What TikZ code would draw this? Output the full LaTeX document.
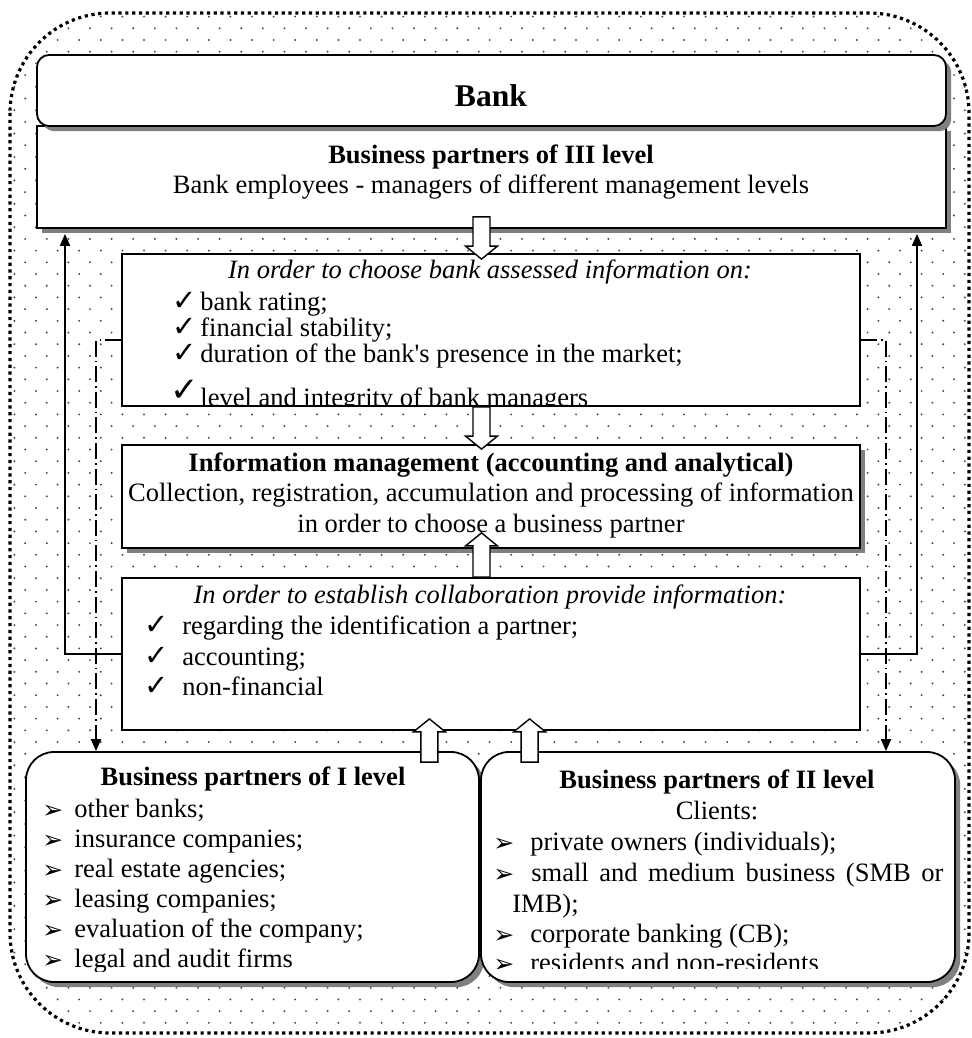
\documentclass[tikz,border=0pt]{standalone}
\usepackage{fontspec}
\setmainfont{Liberation Serif}[Ligatures=TeXOff]
\newfontfamily\symfont{DejaVu Sans}
\usetikzlibrary{calc,fit,shadows,arrows.meta}
% hollow block arrow from #1 (start of shaft) to #2 (tip), vertical
\newcommand\hollowar[2]{%
  \draw[harrow] let \p1=(#1), \p2=(#2), \n2={\y2+6.5pt*ifthenelse(\y2<\y1,1,-1)} in
    ({\x1-4.25pt},\y1) -- ({\x1-4.25pt},{\n2*1pt}) -- ({\x1-8pt},{\n2*1pt})
    -- (\x1,\y2) -- ({\x1+8pt},{\n2*1pt}) -- ({\x1+4.25pt},{\n2*1pt})
    -- ({\x1+4.25pt},\y1) -- cycle;}
\begin{document}
\begin{tikzpicture}[x=0.5pt,y=-0.5pt,
  box/.style={draw=black, line width=0.9pt, fill=white, inner sep=0pt},
  shad/.style={general shadow={fill=black!50, shadow xshift=2.6pt, shadow yshift=-2.6pt}},
  txt/.style={inner sep=0pt, font=\fontsize{13.25}{15.25}\selectfont},
  chk/.style={inner sep=0pt, font=\symfont\fontsize{14.5}{15}\selectfont},
  bul/.style={inner sep=0pt, font=\symfont\fontsize{12.5}{14}\selectfont},
  harrow/.style={draw=black, line width=0.7pt, fill=white, line join=miter},
  conn/.style={draw=black, line width=0.9pt, -{Triangle[length=6pt,width=5pt]}},
  dashdot/.style={draw=black, line width=0.9pt, dash pattern=on 8pt off 2pt on 0.8pt off 2pt,
     -{Triangle[length=6pt,width=5pt]}},
  outerline/.style={draw=black, line width=1.6pt, dash pattern=on 1.6pt off 1.8pt, rounded corners=50pt},
  dotc/.style={fill=black!70}
]
\useasboundingbox (0,0) rectangle (971,1038);

% background dots
\begin{scope}
  \clip[rounded corners=50pt] (10,13) rectangle (969,1033);
  \foreach \j in {0,...,89} {
    \pgfmathsetmacro\yy{16.6+11.7*\j}
    \pgfmathsetmacro\xo{mod(\j,2)==1 ? 3.6 : 14.4}
    \foreach \i in {0,...,44} {
      \fill[dotc] (\xo+21.6*\i,\yy) circle (0.55pt);
    }
  }
\end{scope}
\draw[outerline] (10,13) rectangle (969,1033);

% boxes
\node[box, shad, fit={(37,126) (946,228)}] (b3) {};
\node[box, shad, rounded corners=6pt, fit={(37,55) (946,126)}] (bank) {};
\node[box, fit={(122,254) (860,406)}] (b2) {};
\node[box, shad, fit={(122,445) (860,548)}] (im) {};
\node[box, fit={(122,578) (860,730)}] (b4) {};
\node[box, shad, rounded corners=14pt, fit={(26,752) (479,982)}] (bL) {};
\node[box, shad, rounded corners=14pt, fit={(481,752) (955,982)}] (bR) {};

% texts: bank
\node[txt, font=\fontsize{15.8}{18}\selectfont\bfseries, anchor=base] (tbank) at (491,106) {Bank};
\node[txt, anchor=base] (t3a) at (491,163) {\textbf{Business partners of III level}};
\node[txt, anchor=base] (t3b) at (491,193) {Bank employees - managers of different management levels};

% box 2
\begin{scope}
  \clip (122,254) rectangle (860,406);
  \node[txt, anchor=base] (t2h) at (490,278) {\itshape In order to choose bank assessed information on:};
  \node[chk, anchor=base west] (c21) at (172,310) {✓};
  \node[txt, anchor=base west] (t21) at (200,310) {bank rating;};
  \node[chk, anchor=base west] (c22) at (172,336) {✓};
  \node[txt, anchor=base west] (t22) at (200,336) {financial stability;};
  \node[chk, anchor=base west] (c23) at (172,362) {✓};
  \node[txt, anchor=base west] (t23) at (200,362) {duration of the bank's presence in the market;};
  \node[chk, font=\symfont\fontsize{17}{18}\selectfont, anchor=base west] (c24) at (170,401) {✓};
  \node[txt, anchor=base west] (t24) at (200,406) {level and integrity of bank managers};
\end{scope}

% information management
\node[txt, anchor=base] (tima) at (491,471) {\textbf{Information management (accounting and analytical)}};
\node[txt, anchor=base] (timb) at (491,501) {Collection, registration, accumulation and processing of information};
\node[txt, anchor=base] (timc) at (491,532) {in order to choose a business partner};

% box 4
\node[txt, anchor=base] (t4h) at (490,603) {\itshape In order to establish collaboration provide information:};
\node[chk, anchor=base west] (c41) at (144,634) {✓};
\node[txt, anchor=base west] (t41) at (182,634) {regarding the identification a partner;};
\node[chk, anchor=base west] (c42) at (144,665) {✓};
\node[txt, anchor=base west] (t42) at (182,665) {accounting;};
\node[chk, anchor=base west] (c43) at (144,695) {✓};
\node[txt, anchor=base west] (t43) at (182,695) {non-financial};

% bottom left
\node[txt, anchor=base] (tLh) at (253,785) {\textbf{Business partners of I level}};
\begin{scope}
  \clip (26,752) rectangle (479,971);
  \foreach \k/\s in {0/{other banks;},1/{insurance companies;},2/{real estate agencies;},3/{leasing companies;},4/{evaluation of the company;},5/{legal and audit firms}} {
    \node[bul, anchor=base west] (bl\k) at (42,{818+30*\k}) {➢};
    \node[txt, anchor=base west] (tl\k) at (74,{817+30*\k}) {\s};
  }
\end{scope}

% bottom right
\node[txt, anchor=base] (tRh) at (717,788) {\textbf{Business partners of II level}};
\node[txt, anchor=base] (tRc) at (717,819) {Clients:};
\begin{scope}
  \clip (481,752) rectangle (955,968);
  \node[bul, anchor=base west] (br1) at (493,851) {➢};
  \node[txt, anchor=base west] (tr1) at (530,850) {private owners (individuals);};
  \node[bul, anchor=base west] (br2) at (493,882) {➢};
  \node[txt, anchor=base west] (tr2) at (531,881) {\hbox to 206pt{small\hfill and\hfill medium\hfill business\hfill (SMB\hfill or}};
  \node[txt, anchor=base west] (tr2b) at (512,912) {IMB);};
  \node[bul, anchor=base west] (br3) at (493,943) {➢};
  \node[txt, anchor=base west] (tr3) at (530,942) {corporate banking (CB);};
  \node[bul, anchor=base west] (br4) at (493,972) {➢};
  \node[txt, anchor=base west] (tr4) at (530,971) {residents and non-residents};
\end{scope}

% hollow block arrows
\coordinate (a1s) at ($(b3.south)+(-10,-12)$);
\coordinate (a1t) at ($(b2.north)+(-9.5,6)$);
\hollowar{a1s}{a1t}
\coordinate (a2s) at ($(b2.south)+(-9.5,0)$);
\coordinate (a2t) at ($(im.north)+(-9.5,5)$);
\hollowar{a2s}{a2t}
\coordinate (a3s) at ($(b4.north)+(-9.5,0)$);
\coordinate (a3t) at ($(im.south)+(-9.5,-16)$);
\hollowar{a3s}{a3t}
\coordinate (a4s) at ($(bL.north east)+(-50.5,11)$);
\coordinate (a4t) at ($(b4.south)+(-62.5,-12)$);
\hollowar{a4s}{a4t}
\coordinate (a5s) at ($(bR.north west)+(49.5,11)$);
\coordinate (a5t) at ($(b4.south)+(39.5,-12)$);
\hollowar{a5s}{a5t}

% solid feedback connectors
\coordinate (xL) at (65,0);
\coordinate (xR) at (917,0);
\coordinate (tL) at ($(b3.south -| xL)+(0,5)$);
\coordinate (tR) at ($(b3.south -| xR)+(0,5)$);
\draw[conn] (b4.west) -| (tL);
\draw[conn] (b4.east) -| (tR);

% dash-dot connectors
\coordinate (dL) at (96,0);
\coordinate (dR) at (886,0);
\draw[dashdot] ($(b2.west)+(0,10)$) -| (dL |- bL.north);
\draw[dashdot] ($(b2.east)+(0,10)$) -| (dR |- bR.north);
\end{tikzpicture}
\end{document}
